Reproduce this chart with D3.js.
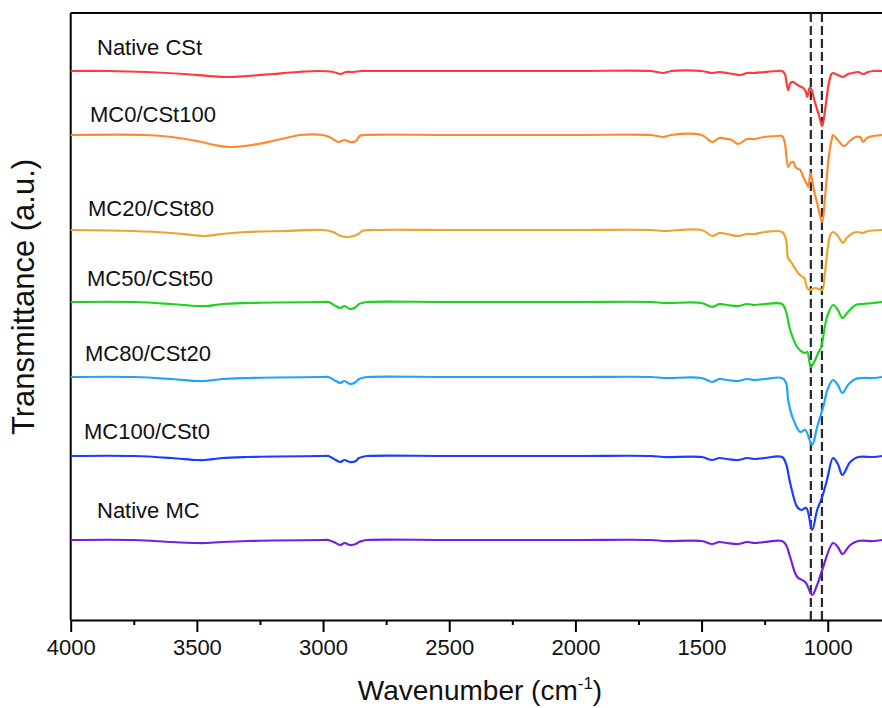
<!DOCTYPE html>
<html>
<head>
<meta charset="utf-8">
<script src="https://cdn.jsdelivr.net/npm/d3@7"></script>
<style>
  body { margin: 0; background: #fff; }
  svg { display: block; font-family: "Liberation Sans", Arial, sans-serif; }
</style>
</head>
<body>
<div id="chart"></div>
<script>
// FTIR spectra, values in a.u. : [wavenumber, shift from the curve's baseline]
const nativeCSt = [
  [4000,0],[3850,0],[3700,-1],[3550,-3],[3450,-5],[3380,-6],[3300,-5],[3200,-3],[3100,-1],[3020,0],
  [2960,-1],[2930,-3],[2910,-1],[2880,-1],[2850,0],[2830,0],[2500,0],[2000,0],[1700,0],[1650,-2],[1620,0],
  [1500,0],[1460,-2],[1430,-1],[1400,-2],[1375,-3],[1345,-4],[1320,-2],[1290,-2],[1250,-1],[1200,0],
  [1181,0],[1170,-3],[1157,-19],[1148,-12],[1137,-11],[1120,-14],[1097,-17],[1088,-20],[1081,-26],
  [1072,-17],[1066,-18],[1050,-32],[1035,-44],[1022,-55],[1010,-38],[997,-14],[985,-3],[979,-2],
  [960,-4],[939,-6],[919,-3],[900,-2],[880,-1],[860,-3],[840,-1],[820,0],[785,0]
];
const mc0CSt100 = [
  [4000,0],[3700,0],[3600,-2],[3500,-6],[3430,-10],[3368,-12],[3280,-10],[3200,-6],[3130,-2],[3091,0],
  [3000,0],[2975,-2],[2940,-7],[2915,-5],[2893,-7],[2870,-6],[2855,-1],[2835,0],[2500,0],[2000,0],[1700,0],
  [1650,-2],[1620,0],[1500,0],[1457,-7],[1430,-3],[1400,-4],[1380,-5],[1355,-9],[1320,-4],[1290,-4],
  [1253,-2],[1200,-1],[1181,-1],[1170,-8],[1157,-32],[1148,-28],[1137,-27],[1125,-33],[1109,-35],
  [1097,-42],[1081,-50],[1077,-52],[1068,-38],[1055,-55],[1040,-70],[1022,-87],[1010,-60],[995,-20],
  [983,-3],[979,0],[960,-5],[936,-11],[912,-6],[890,-2],[872,-2],[860,-7],[845,-3],[820,-1],[785,0]
];
const mc20CSt80 = [
  [4000,0],[3750,-1],[3600,-3],[3520,-5],[3467,-6],[3400,-4],[3300,-2],[3150,-1],[3000,0],[2960,-2],
  [2930,-6],[2904,-7],[2880,-6],[2860,-4],[2845,-1],[2800,0],[2500,0],[2000,0],[1700,0],[1650,-1],
  [1500,0],[1457,-6],[1430,-3],[1400,-4],[1355,-6],[1320,-4],[1290,-4],[1250,-2],[1181,-2],[1165,-10],
  [1157,-28],[1145,-32],[1121,-42],[1105,-46],[1093,-48],[1081,-58],[1070,-60],[1062,-59],[1050,-58],
  [1035,-59],[1022,-60],[1012,-45],[1000,-18],[990,-5],[979,-2],[960,-6],[939,-13],[925,-8],[900,-3],
  [880,-2],[860,-3],[840,-1],[785,0]
];
const mc50CSt50 = [
  [4000,0],[3750,0],[3600,-2],[3500,-4],[3460,-4],[3400,-2],[3300,-1],[3000,0],[2979,0],[2950,-4],
  [2932,-6],[2915,-4],[2893,-7],[2870,-5],[2858,-2],[2845,-1],[2825,0],[2500,0],[2000,0],[1700,0],[1650,-1],
  [1500,-1],[1458,-5],[1430,-2],[1400,-3],[1355,-4],[1320,-2],[1290,-3],[1250,-2],[1181,-2],[1165,-10],
  [1149,-28],[1121,-45],[1101,-50],[1089,-51],[1081,-50],[1067,-65],[1050,-58],[1038,-51],[1026,-45],
  [1003,-15],[979,-3],[960,-8],[942,-16],[920,-10],[890,-3],[860,-2],[820,-1],[785,0]
];
const mc80CSt20 = [
  [4000,0],[3750,0],[3600,-2],[3500,-4],[3467,-4],[3400,-2],[3300,-1],[3000,0],[2979,0],[2950,-4],
  [2932,-6],[2915,-4],[2893,-7],[2870,-5],[2858,-2],[2845,-1],[2825,0],[2500,0],[2000,0],[1700,0],[1650,-1],
  [1500,-1],[1458,-5],[1430,-2],[1400,-3],[1355,-4],[1320,-2],[1290,-3],[1250,-2],[1181,-1],[1165,-6],
  [1157,-23],[1140,-40],[1109,-55],[1089,-53],[1062,-68],[1042,-50],[1018,-30],[1000,-12],[979,-3],
  [960,-8],[942,-16],[920,-8],[890,-2],[860,-1],[820,-1],[785,0]
];
const mc100CSt0 = [
  [4000,0],[3750,0],[3600,-2],[3500,-4],[3467,-4],[3400,-2],[3300,-1],[3000,0],[2979,0],[2950,-4],
  [2932,-6],[2915,-4],[2893,-6],[2870,-5],[2858,-2],[2845,-1],[2825,0],[2500,0],[2000,0],[1700,0],[1650,-1],
  [1500,-1],[1458,-4],[1430,-2],[1400,-3],[1355,-4],[1320,-2],[1290,-3],[1250,-2],[1181,-1],[1165,-8],
  [1149,-27],[1121,-51],[1105,-54],[1085,-52],[1062,-74],[1042,-54],[1022,-41],[1003,-24],[979,-2],
  [960,-8],[942,-19],[911,-6],[880,-1],[820,-1],[785,0]
];
const nativeMC = [
  [4000,0],[3750,0],[3600,-2],[3500,-3],[3467,-3],[3400,-2],[3300,-1],[3000,0],[2979,0],[2950,-3],
  [2932,-5],[2915,-3],[2893,-5],[2870,-4],[2858,-2],[2845,-1],[2825,0],[2500,0],[2000,0],[1700,0],[1650,-1],
  [1500,-1],[1458,-4],[1430,-2],[1400,-3],[1355,-4],[1320,-2],[1290,-3],[1250,-2],[1181,-1],[1165,-5],
  [1149,-17],[1121,-37],[1089,-42],[1062,-55],[1042,-45],[1022,-30],[979,-3],[960,-7],[942,-14],
  [911,-5],[880,-1],[820,-1],[785,0]
];

const seriesData = [nativeCSt, mc0CSt100, mc20CSt80, mc50CSt50, mc80CSt20, mc100CSt0, nativeMC];
const seriesNames = ['Native CSt', 'MC0/CSt100', 'MC20/CSt80', 'MC50/CSt50', 'MC80/CSt20', 'MC100/CSt0', 'Native MC'];
const seriesOffsets = [549, 485, 390, 318, 243, 164, 80];
const seriesColors = ['#ff3a3a', '#ff8a2e', '#eaa52f', '#1fd21f', '#22a2ff', '#1c3cff', '#7222dc'];
const markerLines = [1067, 1023];
const majorTicks = [4000, 3500, 3000, 2500, 2000, 1500, 1000];
const minorTicks = [3750, 3250, 2750, 2250, 1750, 1250];

// layout
const width = 882, height = 708;
const plotLeft = 70.7, plotTop = 13, plotBottom = 620;
const labelX = [97, 90, 88, 87, 85, 84, 97];
const labelGap = [16, 13, 14, 16, 16, 17, 22];

const svg = d3.select('#chart').append('svg').attr('width', width).attr('height', height);

const x = d3.scaleLinear().domain([4000, 785]).range([plotLeft, width]);
const y = d3.scaleLinear().domain([0, 607]).range([plotBottom, plotTop]);

// frame
svg.append('line').attr('x1', plotLeft).attr('x2', width).attr('y1', plotTop).attr('y2', plotTop)
  .attr('stroke', '#000').attr('stroke-width', 2);
svg.append('line').attr('x1', plotLeft).attr('x2', plotLeft).attr('y1', plotTop).attr('y2', plotBottom)
  .attr('stroke', '#000').attr('stroke-width', 2);

// dashed reference lines
svg.selectAll('.marker')
  .data(markerLines)
  .enter()
  .append('line')
  .attr('x1', d => x(d)).attr('x2', d => x(d))
  .attr('y1', plotTop).attr('y2', plotBottom)
  .attr('stroke', '#232833').attr('stroke-width', 2.2)
  .attr('stroke-dasharray', '9,4');

const line = d3.line()
  .x(d => x(d[0]))
  .y(d => d[1])
  .curve(d3.curveCatmullRom.alpha(0.5));

seriesData.forEach((data, i) => {
  svg.append('path')
    .attr('d', line(data.map(p => [p[0], y(seriesOffsets[i] + p[1])])))
    .attr('fill', 'none')
    .attr('stroke', seriesColors[i])
    .attr('stroke-width', 2.2)
    .attr('stroke-linejoin', 'round');

  svg.append('text')
    .attr('x', labelX[i])
    .attr('y', y(seriesOffsets[i]) - labelGap[i])
    .attr('font-size', 22)
    .attr('fill', '#111')
    .text(seriesNames[i]);
});

// x axis
svg.append('g')
  .attr('transform', 'translate(0,' + plotBottom + ')')
  .call(d3.axisBottom(x).tickValues(minorTicks).tickSize(5).tickFormat('').tickSizeOuter(0))
  .call(g => g.select('.domain').remove())
  .call(g => g.selectAll('line').attr('stroke', '#000').attr('stroke-width', 2));

const xAxis = svg.append('g')
  .attr('transform', 'translate(0,' + plotBottom + ')')
  .call(d3.axisBottom(x).tickValues(majorTicks).tickFormat(d3.format('d'))
    .tickSize(12).tickPadding(7).tickSizeOuter(0));
xAxis.select('.domain').attr('stroke', '#000').attr('stroke-width', 2);
xAxis.selectAll('line').attr('stroke', '#000').attr('stroke-width', 2);
xAxis.selectAll('text').attr('font-size', 22).attr('fill', '#111')
  .attr('font-family', '"Liberation Sans", Arial, sans-serif');

// axis titles
const xTitle = svg.append('text')
  .attr('x', 480).attr('y', 700)
  .attr('text-anchor', 'middle')
  .attr('font-size', 28)
  .attr('fill', '#111');
xTitle.append('tspan').text('Wavenumber (cm');
xTitle.append('tspan').attr('font-size', 17).attr('dy', -11).text('-1');
xTitle.append('tspan').attr('dy', 11).text(')');

svg.append('text')
  .attr('transform', 'translate(34,297) rotate(-90)')
  .attr('text-anchor', 'middle')
  .attr('font-size', 31)
  .attr('fill', '#111')
  .text('Transmittance (a.u.)');
</script>
</body>
</html>
